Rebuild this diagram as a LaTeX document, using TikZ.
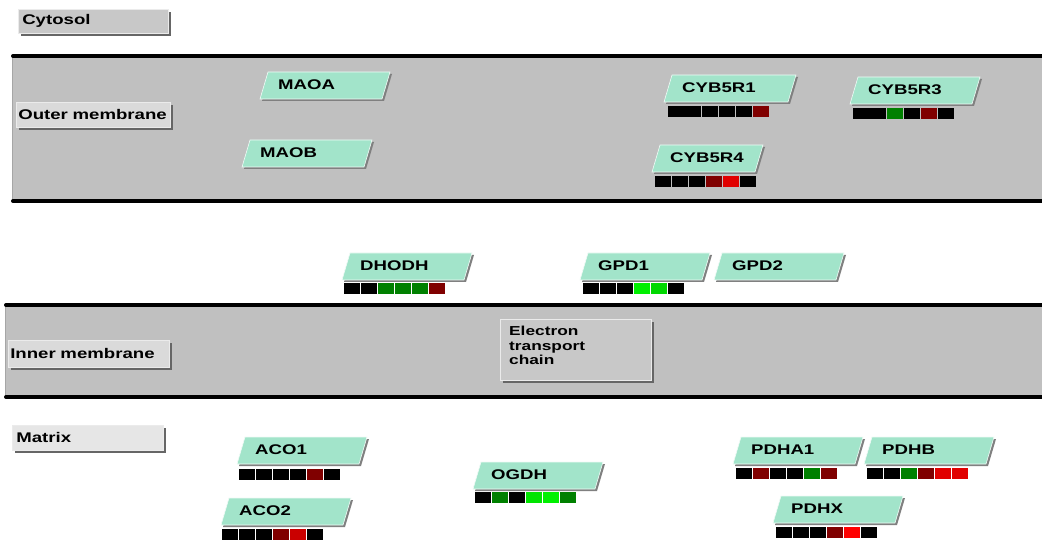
\documentclass[tikz,border=0pt]{standalone}
\usepackage{fontspec}
\setmainfont{Liberation Sans}[FakeStretch=1.33]
\usetikzlibrary{shadows}
\definecolor{bandgray}{RGB}{192,192,192}
\definecolor{protfill}{RGB}{162,228,202}
\definecolor{dkred}{RGB}{128,0,0}
\definecolor{brred}{RGB}{225,0,0}
\definecolor{dkgreen}{RGB}{0,128,0}
\definecolor{lime}{RGB}{0,240,0}
\definecolor{lblA}{RGB}{200,200,200}
\definecolor{lblB}{RGB}{218,218,218}
\definecolor{lblC}{RGB}{230,230,230}
\tikzset{
  x=1pt, y=-1pt,
  membraneline/.style={line width=4pt, line cap=round},
  lblbox/.style={draw=white!92!black, line width=0.6pt, anchor=north west,
    inner xsep=4pt, inner ysep=0pt, align=left,
    font=\bfseries\fontsize{14}{16}\selectfont,
    drop shadow={shadow xshift=3pt, shadow yshift=-3pt, fill=black!60, opacity=1}},
  prottext/.style={anchor=west, inner sep=0pt, font=\bfseries\fontsize{14}{16}\selectfont},
  protshape/.style={fill=protfill, draw=white!85!protfill, line width=0.6pt},
  protshadow/.style={fill=black!50},
}
% protein box: name, bottom-left x, top y, width, label
\newcommand\protein[5]{%
  \path[protshadow] (#2+2,#3+29) -- (#2+10,#3+2) -- (#2+#4+2,#3+2) -- (#2+#4-6,#3+29) -- cycle;
  \path[protshape] (#2,#3+27) -- (#2+8,#3) -- (#2+#4,#3) -- (#2+#4-8,#3+27) -- cycle;
  \node[prottext] (#1) at (#2+18,#3+12.5) {#5};
}
% expression strip: left x, top y, list of six colours
\newcommand\exprbar[3]{%
  \foreach \c [count=\i from 0] in {#3}
    \fill[\c] (#1+\i*17,#2) rectangle ++(16,11);
}
\begin{document}
\begin{tikzpicture}
\useasboundingbox[fill=white] (0,0) rectangle (1042,540);

% membranes
\fill[bandgray] (12,56) rectangle (1042,201);
\draw[black!35, line width=0.8pt] (12,56) -- (12,201);
\draw[membraneline] (13,56) -- (1042,56);
\draw[membraneline] (13,201) -- (1042,201);

\fill[bandgray] (5,305) rectangle (1042,397);
\draw[black!35, line width=0.8pt] (5,305) -- (5,397);
\draw[membraneline] (6,305) -- (1042,305);
\draw[membraneline] (6,397) -- (1042,397);

% compartment labels
\node[lblbox, fill=lblA, text width=142pt, minimum height=24pt] (cytosol) at (18,9) {Cytosol};
\node[lblbox, fill=lblB, text width=150pt, minimum height=25pt, inner xsep=2pt] (outer) at (16,102) {\mbox{Outer membrane}};
\node[lblbox, fill=lblB, text width=157pt, minimum height=27pt, inner xsep=2pt] (inner) at (8,340) {\mbox{Inner membrane}};
\node[lblbox, fill=lblC, text width=143pt, minimum height=25pt] (matrix) at (12,425) {Matrix};

% electron transport chain box with its text
\node[lblbox, fill=lblA, minimum width=151pt, minimum height=61pt, inner sep=0pt] (etc) at (500,319) {};
\node[anchor=north west, inner sep=0pt, align=left,
      font=\bfseries\fontsize{13}{14.5}\selectfont] (etctext) at (509,326)
      {Electron\\transport\\chain};

% outer membrane proteins
\protein{maoa}{260}{72}{130}{MAOA}
\protein{maob}{242}{140}{130}{MAOB}
\protein{cyb5r1}{664}{75}{132}{CYB5R1}
\exprbar{668}{106}{black,black,black,black,black,dkred}
\fill[black] (683,106) rectangle ++(3,11);
\protein{cyb5r3}{850}{77}{130}{CYB5R3}
\exprbar{853}{108}{black,black,dkgreen,black,dkred,black}
\fill[black] (868,108) rectangle ++(3,11);
\protein{cyb5r4}{652}{145}{111}{CYB5R4}
\exprbar{655}{176}{black,black,black,dkred,brred,black}

% intermembrane space
\protein{dhodh}{342}{253}{130}{DHODH}
\exprbar{344}{283}{black,black,dkgreen,dkgreen,dkgreen,dkred}
\protein{gpd1}{580}{253}{130}{GPD1}
\exprbar{583}{283}{black,black,black,lime,lime!90!black,black}
\protein{gpd2}{714}{253}{130}{GPD2}

% matrix
\protein{aco1}{237}{437}{130}{ACO1}
\exprbar{239}{469}{black,black,black,black,dkred,black}
\protein{aco2}{221}{498}{130}{ACO2}
\exprbar{222}{529}{black,black,black,dkred,brred!90!black,black}
\protein{ogdh}{473}{462}{130}{OGDH}
\exprbar{475}{492}{black,dkgreen,black,lime!95!black,lime,dkgreen}
\protein{pdha1}{733}{437}{130}{PDHA1}
\exprbar{736}{468}{black,dkred,black,black,dkgreen,dkred}
\protein{pdhb}{864}{437}{130}{PDHB}
\exprbar{867}{468}{black,black,dkgreen,dkred,brred,brred}
\protein{pdhx}{773}{496}{130}{PDHX}
\exprbar{776}{527}{black,black,black,dkred,red,black}
\end{tikzpicture}
\end{document}
